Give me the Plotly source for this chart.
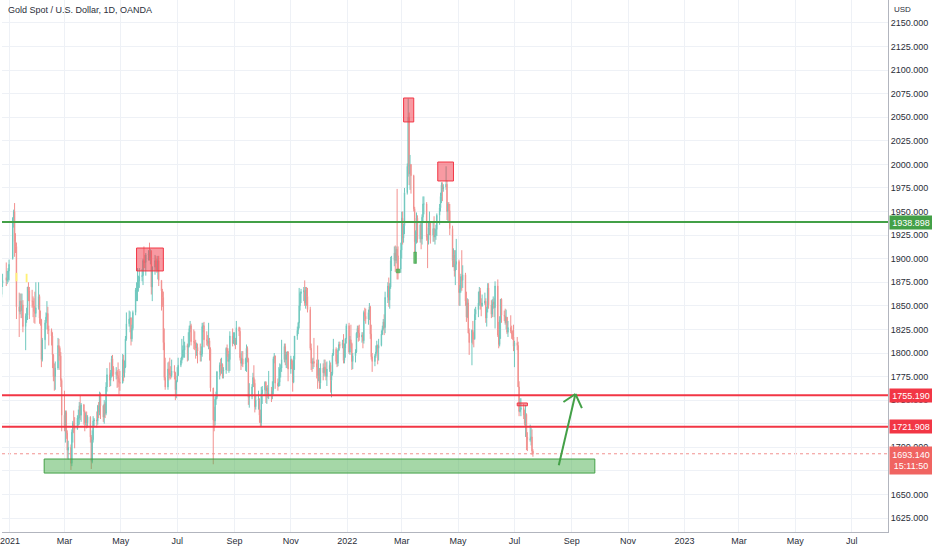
import pandas as pd
import plotly.graph_objects as go

# XAUUSD daily bars, Dec 21 2020 .. Jul 21 2022 (one line per month)
opens = [
    1881, 1872, 1862, 1874, 1880, 1877, 1878, 1887,
    1900, 1943, 1950, 1918, 1913, 1849, 1844, 1855, 1845, 1851, 1828, 1839, 1840, 1870, 1866, 1855, 1855, 1850, 1844, 1842,
    1848, 1860, 1837, 1835, 1793, 1814, 1832, 1838, 1842, 1825, 1824, 1818, 1798, 1775, 1775, 1784, 1808, 1805, 1797, 1771,
    1734, 1723, 1737, 1715, 1697, 1700, 1683, 1716, 1726, 1722, 1719, 1731, 1731, 1744, 1734, 1745, 1738, 1726, 1734, 1726, 1732, 1711, 1685,
    1708, 1728, 1729, 1728, 1744, 1737, 1756, 1744, 1732, 1746, 1736, 1764, 1777, 1771, 1779, 1794, 1784, 1777, 1780, 1776, 1773, 1769,
    1768, 1793, 1779, 1785, 1815, 1831, 1836, 1837, 1815, 1826, 1843, 1867, 1868, 1870, 1876, 1881, 1882, 1898, 1896, 1896, 1904,
    1905, 1902, 1908, 1870, 1891, 1898, 1893, 1888, 1898, 1877, 1866, 1859, 1811, 1774, 1764, 1783, 1779, 1777, 1776, 1781, 1779, 1761,
    1770, 1776, 1787, 1792, 1796, 1803, 1803, 1808, 1806, 1808, 1826, 1829, 1812, 1812, 1810, 1805, 1806, 1802, 1798, 1799, 1828, 1829,
    1814, 1813, 1810, 1813, 1804, 1763, 1729, 1728, 1751, 1753, 1780, 1787, 1786, 1788, 1781, 1782, 1805, 1802, 1791, 1793, 1818, 1810,
    1814, 1814, 1809, 1827, 1823, 1795, 1789, 1794, 1788, 1794, 1805, 1794, 1753, 1754, 1764, 1774, 1768, 1743, 1750, 1751, 1734, 1726,
    1757, 1761, 1769, 1760, 1763, 1756, 1757, 1754, 1760, 1794, 1797, 1768, 1765, 1769, 1783, 1784, 1793, 1807, 1793, 1798, 1801,
    1783, 1793, 1788, 1769, 1793, 1818, 1824, 1832, 1850, 1863, 1865, 1866, 1853, 1867, 1860, 1846, 1805, 1789, 1789, 1791, 1789, 1785,
    1776, 1782, 1768, 1784, 1779, 1785, 1783, 1775, 1783, 1787, 1771, 1778, 1798, 1804, 1791, 1789, 1803, 1809, 1808, 1811, 1792, 1805, 1815,
    1829, 1801, 1814, 1810, 1791, 1797, 1801, 1821, 1826, 1821, 1817, 1819, 1813, 1843, 1839, 1836, 1843, 1849, 1820, 1796, 1791,
    1797, 1801, 1808, 1805, 1808, 1820, 1826, 1833, 1827, 1859, 1871, 1856, 1870, 1898, 1898, 1906, 1898, 1910, 1903, 1889,
    1909, 1943, 1922, 1935, 1970, 1998, 2050, 1990, 2000, 1988, 1953, 1918, 1929, 1943, 1921, 1936, 1921, 1944, 1958, 1958, 1923, 1920, 1933,
    1938, 1925, 1932, 1923, 1925, 1931, 1946, 1954, 1966, 1978, 1974, 1976, 1979, 1950, 1958, 1951, 1932, 1898, 1904, 1887, 1894,
    1897, 1864, 1868, 1881, 1877, 1883, 1855, 1838, 1853, 1821, 1811, 1824, 1815, 1815, 1841, 1846, 1853, 1866, 1853, 1850, 1853, 1855,
    1837, 1847, 1869, 1851, 1841, 1852, 1854, 1848, 1871, 1819, 1809, 1835, 1857, 1840, 1839, 1832, 1838, 1822, 1827, 1823, 1820, 1817,
    1807, 1811, 1808, 1764, 1738, 1740, 1742, 1734, 1725, 1735, 1711, 1708, 1709, 1711, 1696,
]
highs = [
    1906, 1882, 1879, 1884, 1896, 1887, 1890, 1899,
    1944, 1952, 1959, 1927, 1917, 1864, 1863, 1863, 1863, 1856, 1842, 1848, 1870, 1875, 1870, 1867, 1860, 1858, 1865, 1875,
    1875, 1862, 1845, 1836, 1816, 1835, 1843, 1855, 1849, 1829, 1826, 1822, 1799, 1789, 1791, 1816, 1815, 1807, 1801, 1773,
    1760, 1739, 1739, 1718, 1707, 1703, 1719, 1728, 1739, 1732, 1734, 1740, 1748, 1755, 1747, 1746, 1739, 1737, 1738, 1734, 1733, 1713, 1718,
    1733, 1731, 1738, 1745, 1748, 1759, 1758, 1745, 1750, 1748, 1769, 1784, 1790, 1782, 1797, 1798, 1786, 1785, 1782, 1790, 1783, 1781,
    1799, 1798, 1792, 1818, 1843, 1845, 1844, 1838, 1830, 1845, 1869, 1875, 1890, 1882, 1890, 1889, 1900, 1913, 1904, 1906, 1909,
    1917, 1910, 1909, 1892, 1904, 1903, 1900, 1903, 1903, 1877, 1868, 1865, 1826, 1795, 1790, 1791, 1795, 1786, 1793, 1787, 1780, 1771,
    1785, 1795, 1795, 1815, 1808, 1818, 1812, 1810, 1822, 1829, 1834, 1831, 1825, 1823, 1814, 1811, 1810, 1810, 1807, 1832, 1832, 1833,
    1823, 1819, 1832, 1816, 1806, 1763, 1743, 1754, 1759, 1781, 1790, 1794, 1795, 1789, 1785, 1806, 1809, 1805, 1799, 1823, 1826, 1822,
    1822, 1816, 1834, 1828, 1827, 1800, 1802, 1802, 1795, 1809, 1807, 1795, 1768, 1767, 1779, 1787, 1772, 1755, 1760, 1752, 1740, 1764,
    1765, 1770, 1770, 1765, 1766, 1781, 1764, 1770, 1796, 1800, 1797, 1773, 1785, 1789, 1788, 1814, 1810, 1810, 1801, 1802, 1802,
    1797, 1794, 1792, 1797, 1818, 1828, 1833, 1869, 1865, 1868, 1870, 1877, 1870, 1870, 1869, 1849, 1810, 1794, 1795, 1816, 1793, 1808,
    1793, 1784, 1789, 1789, 1793, 1793, 1790, 1791, 1792, 1790, 1780, 1800, 1815, 1806, 1798, 1805, 1812, 1812, 1814, 1820, 1810, 1816, 1831,
    1832, 1818, 1830, 1811, 1800, 1804, 1822, 1829, 1829, 1830, 1822, 1822, 1845, 1848, 1847, 1846, 1853, 1850, 1830, 1800, 1799,
    1808, 1813, 1809, 1815, 1824, 1829, 1836, 1841, 1865, 1875, 1880, 1874, 1902, 1903, 1913, 1914, 1913, 1974, 1913, 1917,
    1950, 1950, 1937, 1975, 2001, 2070, 2055, 2010, 2000, 1989, 1955, 1930, 1949, 1946, 1940, 1939, 1947, 1966, 1966, 1960, 1926, 1940, 1950,
    1940, 1938, 1945, 1932, 1936, 1948, 1958, 1970, 1981, 1981, 1979, 1998, 1983, 1960, 1960, 1958, 1935, 1911, 1909, 1909, 1921,
    1899, 1872, 1884, 1909, 1893, 1885, 1865, 1858, 1857, 1826, 1825, 1834, 1822, 1847, 1849, 1865, 1870, 1869, 1858, 1862, 1864, 1858,
    1849, 1874, 1874, 1856, 1857, 1860, 1858, 1876, 1878, 1833, 1839, 1857, 1858, 1845, 1847, 1846, 1838, 1834, 1840, 1829, 1824, 1830,
    1813, 1817, 1812, 1770, 1752, 1752, 1746, 1740, 1745, 1736, 1716, 1724, 1721, 1719, 1698,
]
lows = [
    1855, 1860, 1859, 1870, 1871, 1873, 1875, 1877,
    1899, 1933, 1902, 1906, 1836, 1817, 1841, 1837, 1837, 1822, 1803, 1832, 1835, 1855, 1836, 1848, 1838, 1832, 1831, 1838,
    1846, 1831, 1829, 1785, 1791, 1804, 1825, 1834, 1820, 1808, 1808, 1784, 1770, 1760, 1761, 1782, 1792, 1782, 1764, 1717,
    1717, 1705, 1709, 1688, 1687, 1676, 1680, 1705, 1715, 1699, 1719, 1723, 1724, 1729, 1727, 1724, 1717, 1723, 1720, 1721, 1705, 1677, 1683,
    1705, 1722, 1721, 1724, 1731, 1734, 1730, 1727, 1725, 1731, 1734, 1759, 1764, 1765, 1774, 1775, 1770, 1772, 1763, 1764, 1756, 1760,
    1768, 1770, 1774, 1784, 1813, 1828, 1822, 1808, 1812, 1824, 1840, 1855, 1855, 1865, 1869, 1876, 1872, 1890, 1890, 1882, 1898,
    1898, 1894, 1862, 1855, 1883, 1888, 1885, 1878, 1871, 1845, 1849, 1803, 1771, 1761, 1761, 1771, 1773, 1772, 1774, 1772, 1750, 1752,
    1769, 1776, 1785, 1789, 1793, 1795, 1795, 1791, 1792, 1806, 1822, 1808, 1804, 1803, 1794, 1797, 1789, 1791, 1791, 1796, 1822, 1806,
    1808, 1807, 1804, 1792, 1759, 1682, 1717, 1723, 1745, 1751, 1772, 1776, 1778, 1773, 1773, 1778, 1796, 1781, 1779, 1781, 1807, 1810,
    1808, 1804, 1809, 1818, 1792, 1782, 1786, 1785, 1781, 1780, 1790, 1745, 1742, 1751, 1764, 1764, 1737, 1740, 1740, 1726, 1722, 1722,
    1746, 1755, 1747, 1746, 1752, 1751, 1748, 1751, 1756, 1789, 1762, 1760, 1764, 1765, 1774, 1780, 1790, 1787, 1784, 1784, 1770,
    1778, 1783, 1759, 1768, 1782, 1814, 1820, 1826, 1845, 1853, 1855, 1850, 1847, 1850, 1843, 1803, 1782, 1780, 1783, 1785, 1773, 1762,
    1770, 1762, 1762, 1771, 1775, 1777, 1771, 1765, 1780, 1758, 1753, 1776, 1797, 1788, 1785, 1786, 1802, 1805, 1805, 1789, 1789, 1795, 1810,
    1799, 1798, 1805, 1782, 1783, 1790, 1800, 1816, 1812, 1813, 1811, 1805, 1810, 1834, 1831, 1830, 1835, 1815, 1793, 1780, 1786,
    1795, 1799, 1788, 1792, 1807, 1819, 1824, 1819, 1821, 1853, 1849, 1847, 1868, 1887, 1892, 1886, 1895, 1878, 1878, 1885,
    1900, 1915, 1917, 1926, 1968, 1987, 1978, 1973, 1969, 1950, 1906, 1895, 1916, 1917, 1917, 1910, 1915, 1938, 1947, 1919, 1890, 1915, 1925,
    1916, 1918, 1918, 1915, 1920, 1924, 1936, 1950, 1959, 1961, 1971, 1973, 1941, 1939, 1938, 1925, 1891, 1891, 1881, 1872, 1888,
    1850, 1850, 1864, 1866, 1869, 1850, 1833, 1837, 1821, 1798, 1787, 1809, 1806, 1814, 1835, 1838, 1850, 1846, 1839, 1849, 1851, 1832,
    1828, 1843, 1847, 1837, 1838, 1847, 1838, 1826, 1817, 1805, 1807, 1815, 1832, 1834, 1830, 1825, 1820, 1817, 1821, 1815, 1814, 1802,
    1785, 1803, 1764, 1733, 1737, 1733, 1730, 1723, 1711, 1697, 1696, 1706, 1702, 1692, 1690,
]
closes = [
    1872, 1862, 1874, 1877, 1877, 1878, 1887, 1894,
    1943, 1950, 1918, 1913, 1849, 1844, 1855, 1845, 1851, 1828, 1839, 1840, 1870, 1866, 1855, 1855, 1850, 1844, 1842, 1848,
    1860, 1837, 1835, 1793, 1814, 1832, 1838, 1842, 1825, 1824, 1818, 1798, 1775, 1775, 1784, 1808, 1805, 1797, 1771, 1734,
    1723, 1737, 1715, 1697, 1700, 1683, 1716, 1726, 1722, 1719, 1731, 1731, 1744, 1734, 1745, 1738, 1726, 1734, 1726, 1732, 1711, 1685, 1708,
    1728, 1729, 1728, 1744, 1737, 1756, 1744, 1732, 1746, 1736, 1764, 1777, 1771, 1779, 1794, 1784, 1777, 1780, 1776, 1773, 1769, 1768,
    1793, 1779, 1785, 1815, 1831, 1836, 1837, 1815, 1826, 1843, 1867, 1868, 1870, 1876, 1881, 1882, 1898, 1896, 1896, 1904, 1905,
    1902, 1908, 1870, 1891, 1898, 1893, 1888, 1898, 1877, 1866, 1859, 1811, 1774, 1764, 1783, 1779, 1777, 1776, 1781, 1779, 1761, 1770,
    1776, 1787, 1792, 1796, 1803, 1803, 1808, 1806, 1808, 1826, 1829, 1812, 1812, 1810, 1805, 1806, 1802, 1798, 1799, 1828, 1829, 1814,
    1813, 1810, 1813, 1804, 1763, 1729, 1728, 1751, 1753, 1780, 1787, 1786, 1788, 1781, 1782, 1805, 1802, 1791, 1793, 1818, 1810, 1814,
    1814, 1809, 1827, 1823, 1795, 1789, 1794, 1788, 1794, 1805, 1794, 1753, 1754, 1764, 1774, 1768, 1743, 1750, 1751, 1734, 1726, 1757,
    1761, 1769, 1760, 1763, 1756, 1757, 1754, 1760, 1794, 1797, 1768, 1765, 1769, 1783, 1784, 1793, 1807, 1793, 1798, 1801, 1783,
    1793, 1788, 1769, 1793, 1818, 1824, 1832, 1850, 1863, 1865, 1866, 1853, 1867, 1860, 1846, 1805, 1789, 1789, 1791, 1789, 1785, 1776,
    1782, 1768, 1784, 1779, 1785, 1783, 1775, 1783, 1787, 1771, 1778, 1798, 1804, 1791, 1789, 1803, 1809, 1808, 1811, 1792, 1805, 1815, 1829,
    1801, 1814, 1810, 1791, 1797, 1801, 1821, 1826, 1821, 1817, 1819, 1813, 1843, 1839, 1836, 1843, 1849, 1820, 1796, 1791, 1797,
    1801, 1808, 1805, 1808, 1820, 1826, 1833, 1827, 1859, 1871, 1856, 1870, 1898, 1898, 1906, 1898, 1910, 1903, 1889, 1909,
    1943, 1922, 1935, 1970, 1998, 2050, 1990, 2000, 1988, 1953, 1918, 1929, 1943, 1921, 1936, 1921, 1944, 1958, 1958, 1923, 1920, 1933, 1938,
    1925, 1932, 1923, 1925, 1931, 1946, 1954, 1966, 1978, 1974, 1976, 1979, 1950, 1958, 1951, 1932, 1898, 1904, 1887, 1894, 1897,
    1864, 1868, 1881, 1877, 1883, 1855, 1838, 1853, 1821, 1811, 1824, 1815, 1815, 1841, 1846, 1853, 1866, 1853, 1850, 1853, 1855, 1837,
    1847, 1869, 1851, 1841, 1852, 1854, 1848, 1871, 1819, 1809, 1835, 1857, 1840, 1839, 1832, 1838, 1822, 1827, 1823, 1820, 1817, 1807,
    1811, 1808, 1764, 1738, 1740, 1742, 1734, 1725, 1735, 1711, 1708, 1709, 1711, 1696, 1693.14,
]

# levels drawn on the chart
support_level = 1938.898
resist_levels = [1755.190, 1721.908]
last_price = 1693.14
countdown = "15:11:50"

tick_prices = list(range(1625, 2151, 25))
month_ticks = pd.date_range("2021-01-01", "2023-07-01", freq="2MS")
month_text = [d.strftime("%Y") if d.month == 1 else d.strftime("%b") for d in month_ticks]

dates = pd.bdate_range("2020-12-21", "2022-07-21")
dates = dates[~dates.isin(pd.to_datetime(["2020-12-25", "2021-01-01"]))]
if len(dates) != len(closes):
    raise ValueError("dates %d vs bars %d" % (len(dates), len(closes)))

UP = "#6fc8be"
DOWN = "#f2918f"
GREEN = "#43a047"
RED = "#f23645"
GRID = "#eef1f6"
TXT = "#2a2e39"
FONT = "Liberation Sans, Arial, sans-serif"

fig = go.Figure()
fig.add_trace(go.Candlestick(
    x=dates, open=opens, high=highs, low=lows, close=closes,
    increasing=dict(line=dict(color=UP, width=1), fillcolor=UP),
    decreasing=dict(line=dict(color=DOWN, width=1), fillcolor=DOWN),
    hoverinfo="skip", showlegend=False,
))

shapes = []
# price line of the last bar
shapes.append(dict(type="line", xref="paper", x0=0, x1=1, yref="y", y0=last_price, y1=last_price,
                   line=dict(color=DOWN, width=1, dash="dot"), layer="below"))
# horizontal levels
shapes.append(dict(type="line", xref="paper", x0=0, x1=1, yref="y", y0=support_level, y1=support_level,
                   line=dict(color=GREEN, width=2)))
for lv in resist_levels:
    shapes.append(dict(type="line", xref="paper", x0=0, x1=1, yref="y", y0=lv, y1=lv,
                       line=dict(color=RED, width=2)))
# demand zone
shapes.append(dict(type="rect", xref="x", yref="y", x0="2021-02-07", x1="2022-09-26", y0=1672.7, y1=1687.6,
                   fillcolor="rgba(76,175,80,0.5)", line=dict(color=GREEN, width=1)))
# top boxes
for x0, x1, y0, y1 in [("2021-05-18", "2021-06-16", 1887, 1911.3),
                       ("2022-03-03", "2022-03-14", 2045, 2070.4),
                       ("2022-04-09", "2022-04-26", 1982.4, 2002.5),
                       ("2022-07-04", "2022-07-15", 1744, 1747)]:
    shapes.append(dict(type="rect", xref="x", yref="y", x0=x0, x1=x1, y0=y0, y1=y1,
                       fillcolor="rgba(242,54,69,0.5)", line=dict(color=RED, width=1)))
for x0, x1, y0, y1 in [("2022-02-23", "2022-02-27", 1885, 1889),
                       ("2022-03-14", "2022-03-17", 1895, 1907)]:
    shapes.append(dict(type="rect", xref="x", yref="y", x0=x0, x1=x1, y0=y0, y1=y1,
                       fillcolor="rgba(76,175,80,0.8)", line=dict(color=GREEN, width=0.5)))
for x0, x1, y0, y1 in [("2021-01-07", "2021-01-09", 1876, 1885),
                       ("2021-01-18", "2021-01-20", 1875, 1884)]:
    shapes.append(dict(type="rect", xref="x", yref="y", x0=x0, x1=x1, y0=y0, y1=y1,
                       fillcolor="#fff176", line=dict(width=0)))
# arrow
for xa, ya, xb, yb in [("2022-08-18", 1681, "2022-09-05", 1756.5),
                       ("2022-08-23", 1748, "2022-09-05", 1756.5),
                       ("2022-09-05", 1756.5, "2022-09-12", 1741.6)]:
    shapes.append(dict(type="line", xref="x", yref="y", x0=xa, y0=ya, x1=xb, y1=yb,
                       line=dict(color=GREEN, width=2)))

annotations = [
    dict(text="Gold Spot / U.S. Dollar, 1D, OANDA", xref="paper", yref="paper", x=0.004, y=0.995,
         xanchor="left", yanchor="top", showarrow=False, font=dict(size=9, color=TXT, family=FONT)),
    dict(text="USD", xref="paper", yref="paper", x=1, y=1, xshift=4, yshift=-3,
         xanchor="left", yanchor="top", showarrow=False, font=dict(size=8, color=TXT, family=FONT)),
]
for lv, col in [(support_level, GREEN), (resist_levels[0], RED), (resist_levels[1], RED)]:
    annotations.append(dict(text="%.3f" % lv, xref="paper", yref="y", x=1, y=lv, xshift=1,
                            xanchor="left", yanchor="middle",
                            showarrow=False, bgcolor=col, width=42, height=13, borderpad=0, align="center",
                            font=dict(size=9, color="white", family=FONT)))
annotations.append(dict(text="%.3f<br>%s" % (last_price, countdown), xref="paper", yref="y", x=1, y=last_price,
                        xshift=1, yshift=-7, xanchor="left", yanchor="middle", showarrow=False, bgcolor="#f06461",
                        width=42, height=27, borderpad=0, align="center",
                        font=dict(size=9, color="white", family=FONT)))

fig.update_layout(
    width=932, height=550,
    margin=dict(l=0, r=44, t=0, b=18),
    paper_bgcolor="white", plot_bgcolor="white",
    font=dict(family=FONT, size=9, color=TXT),
    shapes=shapes, annotations=annotations,
    hovermode=False,
    xaxis=dict(type="date", range=["2020-12-23 09:00", "2023-08-09 07:00"],
               tickvals=month_ticks, ticktext=month_text, showgrid=True, gridcolor=GRID,
               showline=True, linecolor="#b2b5be", linewidth=1, zeroline=False,
               ticklabeloverflow="allow",
               rangeslider=dict(visible=False), ticks="", tickfont=dict(size=9, color=TXT)),
    yaxis=dict(side="right", range=[1610.2, 2174.3], tickvals=tick_prices,
               ticktext=["%.3f" % p for p in tick_prices], showgrid=True, gridcolor=GRID,
               showline=True, linecolor="#b2b5be", linewidth=1, zeroline=False,
               ticks="", tickfont=dict(size=9, color=TXT)),
)

# the page body has a default margin; drop it so the chart sits at the window corner
fig.write_html("out.html", config={"displayModeBar": False},
               post_script="document.body.style.margin='0px';")
